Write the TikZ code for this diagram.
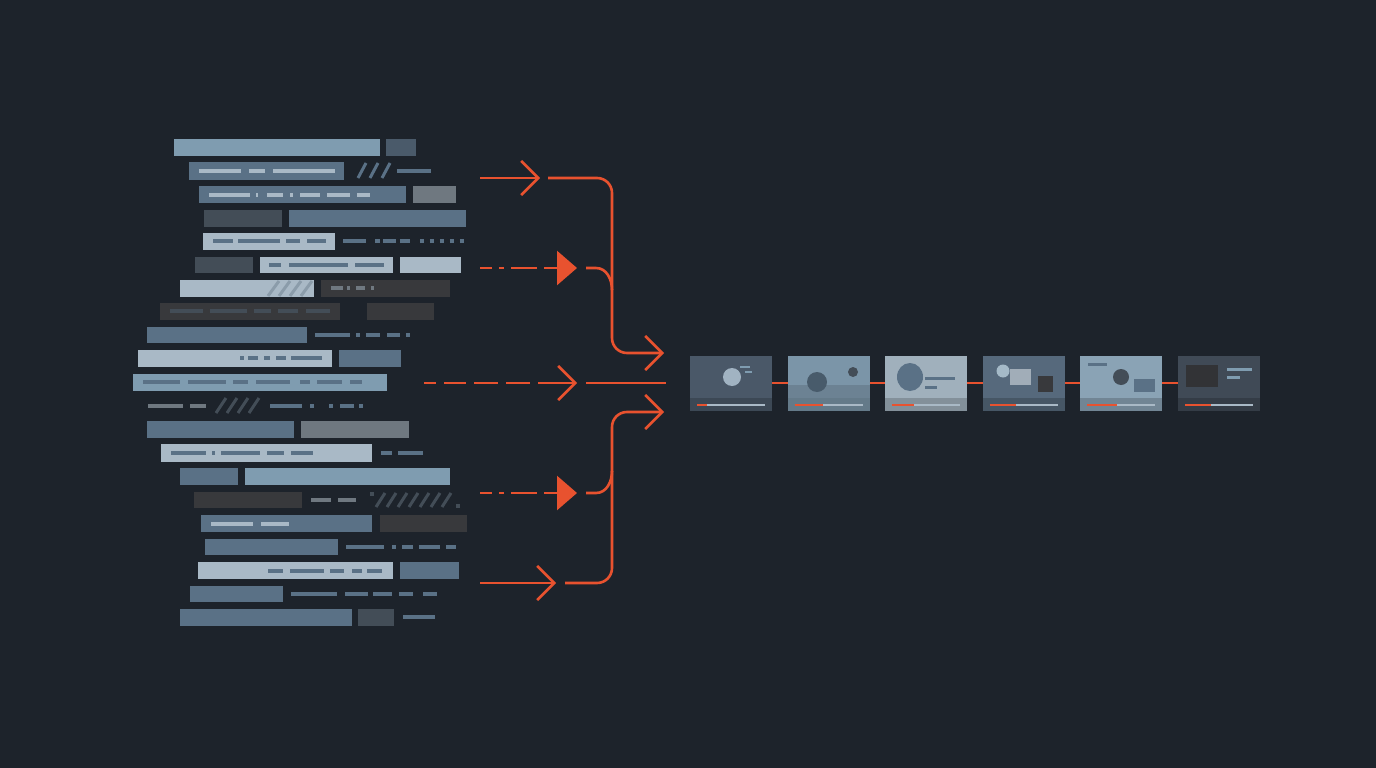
\documentclass[tikz,border=0pt]{standalone}
\usetikzlibrary{arrows.meta}
\definecolor{bg}{HTML}{1D232B}
\definecolor{cA}{HTML}{7F9CB0}
\definecolor{cB}{HTML}{5A7186}
\definecolor{cC}{HTML}{A9B9C6}
\definecolor{cD}{HTML}{434D57}
\definecolor{cE}{HTML}{38393C}
\definecolor{cF}{HTML}{6F7880}
\definecolor{cG}{HTML}{4A5A6A}
\definecolor{org}{HTML}{E8522F}
\begin{document}
\begin{tikzpicture}[x=1pt,y=-1pt,
  oa/.style={draw=org,line width=2.6pt},
  chev/.style={-{Straight Barb[length=17pt,width=34pt,line width=2.6pt]}},
  tri/.style={-{Triangle[length=20pt,width=34pt]}},
  dd/.style={dash pattern=on 12pt off 7pt on 5pt off 7pt on 26pt off 7pt on 14pt off 1000pt}]
\useasboundingbox (0,0) rectangle (1376,768);
\fill[bg] (0,0) rectangle (1376,768);
% bars
\foreach \a/\b/\c/\d/\col in {
 174/139/380/156/cA, 386/139/416/156/cG,
 189/162/344/180/cB,
 199/186/406/203/cB, 413/186/456/203/cF,
 204/210/282/227/cD, 289/210/466/227/cB,
 203/233/335/250/cC,
 195/257/253/273/cD, 260/257/393/273/cC, 400/257/461/273/cC,
 180/280/314/297/cC, 321/280/450/297/cE,
 160/303/340/320/cE, 367/303/434/320/cE,
 147/327/307/343/cB,
 138/350/332/367/cC, 339/350/401/367/cB,
 133/374/387/391/cA,
 147/421/294/438/cB, 301/421/409/438/cF,
 161/444/372/462/cC,
 180/468/238/485/cB, 245/468/450/485/cA,
 194/492/302/508/cE,
 201/515/372/532/cB, 380/515/467/532/cE,
 205/539/338/555/cB,
 198/562/393/579/cC, 400/562/459/579/cB,
 190/586/283/602/cB,
 180/609/352/626/cB, 358/609/394/626/cD}
 \fill[\col] (\a,\b) rectangle (\c,\d);
% inner/outer dash lines
\foreach \a/\b/\yy/\col in {
 199/241/171/cC, 249/265/171/cC, 273/335/171/cC, 397/431/171/cB,
 209/250/195/cC, 256/258/195/cC, 267/283/195/cC, 290/293/195/cC, 300/320/195/cC, 327/350/195/cC, 357/370/195/cC,
 213/233/241/cB, 238/280/241/cB, 286/300/241/cB, 307/326/241/cB,
 343/366/241/cB, 375/380/241/cB, 383/396/241/cB, 400/410/241/cB, 420/424/241/cB, 430/434/241/cB, 440/444/241/cB, 450/454/241/cB, 460/464/241/cB,
 269/281/265/cB, 289/348/265/cB, 355/384/265/cB,
 331/343/288/cF, 347/350/288/cF, 356/365/288/cF, 371/374/288/cF,
 170/203/311/cD, 210/247/311/cD, 254/271/311/cD, 278/298/311/cD, 306/330/311/cD,
 315/350/335/cB, 356/360/335/cB, 366/380/335/cB, 387/400/335/cB, 406/410/335/cB,
 240/244/358/cB, 248/258/358/cB, 264/270/358/cB, 276/286/358/cB, 291/322/358/cB,
 143/180/382/cB, 188/226/382/cB, 233/248/382/cB, 256/290/382/cB, 300/310/382/cB, 317/342/382/cB, 350/362/382/cB,
 148/183/406/cF, 190/206/406/cF, 270/302/406/cB, 310/314/406/cB, 329/333/406/cB, 340/354/406/cB, 359/363/406/cB,
 171/206/453/cB, 212/215/453/cB, 221/260/453/cB, 267/284/453/cB, 291/313/453/cB, 381/392/453/cB, 398/423/453/cB,
 311/331/500/cF, 338/356/500/cF,
 211/253/524/cC, 261/289/524/cC,
 346/384/547/cB, 392/396/547/cB, 402/413/547/cB, 419/440/547/cB, 446/456/547/cB,
 268/283/571/cB, 290/324/571/cB, 330/344/571/cB, 352/362/571/cB, 367/382/571/cB,
 291/337/594/cB, 345/368/594/cB, 373/392/594/cB, 399/413/594/cB, 423/437/594/cB,
 403/435/617/cB}
 \draw[\col,line width=3.5pt] (\a,\yy) -- (\b,\yy);
% slashes
\foreach \x in {358,370,382} \draw[cB,line width=3pt] (\x,178) -- (\x+8,163);
\foreach \x in {268,279,290,301} \draw[cB!70,line width=3pt] (\x,296) -- (\x+11,281);
\foreach \x in {216,227,238,249} \draw[cD,line width=3pt] (\x,413) -- (\x+10,398);
\foreach \x in {376,387,398,409,420,431,442} \draw[cD,line width=3pt] (\x,507) -- (\x+9,493);
\fill[cD] (370,492) rectangle (374,496);
\fill[cD] (456,504) rectangle (460,508);
% arrows
\coordinate (s1) at (480,178); \coordinate (e1) at (540,178);
\coordinate (s2) at (480,268); \coordinate (e2) at (577,268);
\coordinate (s3) at (424,383); \coordinate (e3) at (577,383);
\coordinate (s5) at (480,493); \coordinate (e5) at (577,493);
\coordinate (s6) at (480,583); \coordinate (e6) at (556,583);
\coordinate (j1) at (664,353); \coordinate (j3) at (666,383); \coordinate (j4) at (664,412);
\draw[oa,chev] (s1) -- (e1);
\draw[oa,tri,dd] (s2) -- (e2);
\draw[oa,chev,dash pattern=on 12pt off 8pt on 22pt off 8pt on 24pt off 8pt on 24pt off 8pt on 200pt] (s3) -- (e3);
\draw[oa,tri,dd] (s5) -- (e5);
\draw[oa,chev] (s6) -- (e6);
\draw[oa,chev] (548,178) -- (597,178) to[out=0,in=90] (612,193) -- (612,338) to[out=-90,in=180] (627,353) -- (j1);
\draw[oa] (586,268) -- (596,268) to[out=0,in=90] (612,290);
\draw[oa] (586,383) -- (j3);
\draw[oa,chev] (565,583) -- (597,583) to[out=0,in=-90] (612,568) -- (612,427) to[out=90,in=180] (627,412) -- (j4);
\draw[oa] (586,493) -- (596,493) to[out=0,in=-90] (612,471);
% cards
\foreach \i/\col in {0/4A5868,1/7B95A8,2/A0B0BC,3/56697C,4/8AA3B5,5/404A56}{
  \definecolor{cc}{HTML}{\col}
  \pgfmathsetmacro\xx{690+97.6*\i}
  \fill[cc] (\xx,356) rectangle (\xx+82,411);
  \fill[black,opacity=0.18] (\xx,398) rectangle (\xx+82,411);
  \draw[cC,line width=2.5pt] (\xx+7,405) -- (\xx+75,405);
}
\foreach \i/\p in {0/10,1/28,2/22,3/26,4/30,5/26}{
  \pgfmathsetmacro\xx{690+97.6*\i}
  \draw[org,line width=2.5pt] (\xx+7,405) -- (\xx+7+\p,405);
}
\foreach \i in {0,...,4}{
  \pgfmathsetmacro\xx{690+97.6*\i+82}
  \draw[org,line width=2.5pt] (\xx,383) -- (\xx+15.6,383);
}
% card details
\fill[cC!80!cA] (732,377) circle (9);
\draw[cA,line width=2.5pt] (740,367) -- (750,367) (745,372) -- (752,372);
\fill[black,opacity=0.12] (788,385) rectangle (870,398);
\fill[cB!80!black] (817,382) ellipse (10 and 10);
\fill[cD] (853,372) circle (5);
\fill[cB] (910,377) ellipse (13 and 14);
\draw[cB,line width=3pt] (925,378) -- (955,378) (925,387) -- (937,387);
\fill[cA!70!white] (1003,371) circle (6.5);
\fill[cC!80!gray] (1010,369) rectangle (1031,385);
\fill[cE] (1038,376) rectangle (1053,392);
\draw[cB,line width=3pt] (1088,364) -- (1107,364);
\fill[cD] (1121,377) circle (8);
\fill[cB] (1134,379) rectangle (1155,392);
\fill[cE!90!black] (1186,365) rectangle (1218,387);
\draw[cA,line width=3pt] (1227,369) -- (1252,369) (1227,377) -- (1240,377);
\end{tikzpicture}
\end{document}
